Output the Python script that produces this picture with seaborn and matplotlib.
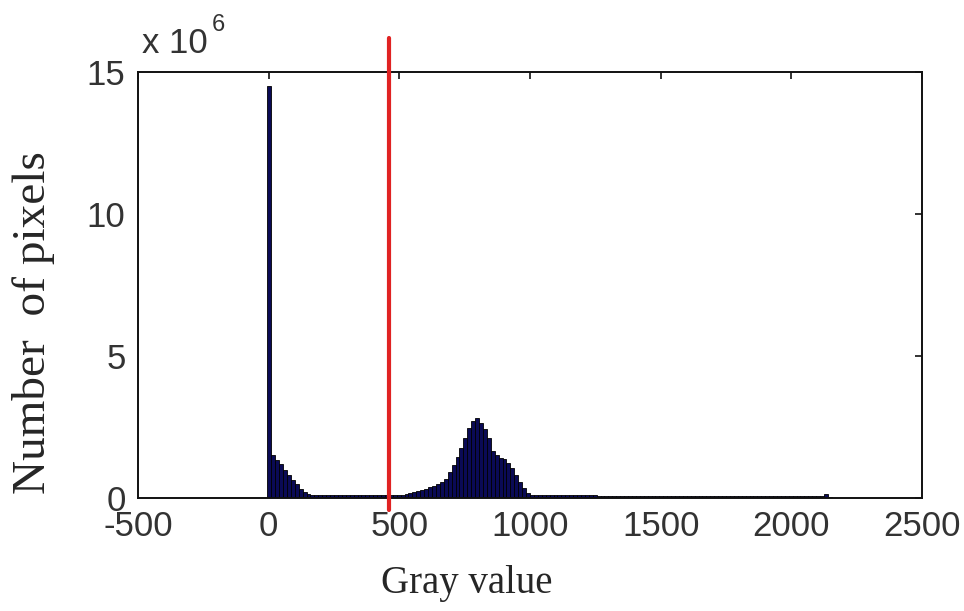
import pandas as pd
import matplotlib
matplotlib.use("Agg")
import matplotlib.pyplot as plt
import seaborn as sns

# Histogram of gray values (bin width 15, first bin starts at -5)
BIN_START = -5
BIN_WIDTH = 15

# Pixel counts per bin, in millions of pixels
pixel_counts_millions = [
    # background spike and its decay
    14.5, 1.50, 1.35, 1.18, 1.00, 0.82, 0.65, 0.48, 0.32, 0.20,
    # low plateau up to the threshold
    0.14, 0.12, 0.11, 0.10, 0.10, 0.10, 0.09, 0.09, 0.09, 0.09, 0.09,
    0.09, 0.09, 0.09, 0.09, 0.09, 0.09, 0.09, 0.09, 0.09, 0.09, 0.09,
    # object peak
    0.09, 0.10, 0.11, 0.13, 0.16, 0.20, 0.25, 0.29, 0.33, 0.38,
    0.43, 0.50, 0.58, 0.68, 0.90, 1.15, 1.45, 1.75, 2.10, 2.45,
    2.70, 2.80, 2.65, 2.42, 2.10, 1.65, 1.50, 1.42, 1.36, 1.25,
    1.05, 0.80, 0.55, 0.35, 0.17, 0.10,
    # long bright tail
    0.09, 0.09, 0.09, 0.09, 0.09, 0.09, 0.09, 0.09, 0.09, 0.09,
    0.09, 0.09, 0.09, 0.09, 0.09, 0.09, 0.08, 0.08, 0.08, 0.08,
    0.08, 0.08, 0.08, 0.08, 0.08, 0.08, 0.08, 0.08, 0.08, 0.08,
    0.08, 0.08, 0.08, 0.08, 0.08, 0.08, 0.08, 0.08, 0.08, 0.08,
    0.08, 0.08, 0.08, 0.08, 0.08, 0.08, 0.07, 0.07, 0.07, 0.07,
    0.07, 0.07, 0.07, 0.07, 0.07, 0.07, 0.07, 0.07, 0.07, 0.07,
    0.07, 0.07, 0.07, 0.07, 0.07, 0.07, 0.07, 0.07, 0.07, 0.07,
    0.07, 0.07, 0.07, 0.07,
    0.14, 0.04,
]

threshold = 460

x_ticks = [-500, 0, 500, 1000, 1500, 2000, 2500]
x_tick_labels = ["-500", "0", "500", "1000", "1500", "2000", "2500"]
y_ticks = [0, 5, 10, 15]
y_tick_labels = ["0", "5", "10", "15"]

n_bins = len(pixel_counts_millions)
bin_edges = [float(BIN_START + BIN_WIDTH * i) for i in range(n_bins + 1)]
hist_df = pd.DataFrame({
    "gray": [(bin_edges[i] + bin_edges[i + 1]) / 2 for i in range(n_bins)],
    "count": pixel_counts_millions,
})

sns.set_style("white")
plt.rcParams["font.family"] = ["Liberation Sans", "DejaVu Sans"]
plt.rcParams["axes.unicode_minus"] = False

fig = plt.figure(figsize=(9.64, 6.11), dpi=100)
ax = fig.add_axes([138 / 964, 1 - 498 / 611, 784 / 964, 426 / 611])

sns.histplot(data=hist_df, x="gray", weights="count", bins=bin_edges,
             ax=ax, color="#0a0a55", edgecolor="black", linewidth=0.6,
             alpha=1.0, stat="count")

ax.axvline(threshold, ymin=-0.028, ymax=1.08, color="#e02222", lw=3.0,
           clip_on=False, zorder=5)

ax.set_xlim(-500, 2500)
ax.set_ylim(0, 15)
ax.set_xticks(x_ticks)
ax.set_xticklabels(x_tick_labels)
ax.set_yticks(y_ticks)
ax.set_yticklabels(y_tick_labels)
ax.set_xlabel("")
ax.set_ylabel("")

for side in ["top", "bottom", "left", "right"]:
    ax.spines[side].set_visible(True)
    ax.spines[side].set_color("#111111")
    ax.spines[side].set_linewidth(1.4)

ax.tick_params(axis="both", which="both", direction="in", length=5, width=1.2,
               color="#111111", top=True, right=True, labelsize=25,
               labelcolor="#333333")
ax.tick_params(axis="x", pad=9)
ax.tick_params(axis="y", pad=9)

# scale factor shown above the y axis
fig.text(142 / 964, 1 - 53 / 611, "x 10", fontsize=25,
         color="#333333", ha="left", va="baseline")
fig.text(212 / 964, 1 - 31 / 611, "6", fontsize=17,
         color="#333333", ha="left", va="baseline")

fig.text(467 / 964, 1 - 583 / 611, "Gray value", fontsize=28,
         family=["Liberation Serif", "DejaVu Serif"], ha="center", va="center")
fig.text(34 / 964, 1 - 323 / 611, "Number  of pixels", fontsize=34,
         family=["Liberation Serif", "DejaVu Serif"], rotation=90,
         ha="center", va="center")

fig.savefig("out.png", dpi=100, facecolor="white")
